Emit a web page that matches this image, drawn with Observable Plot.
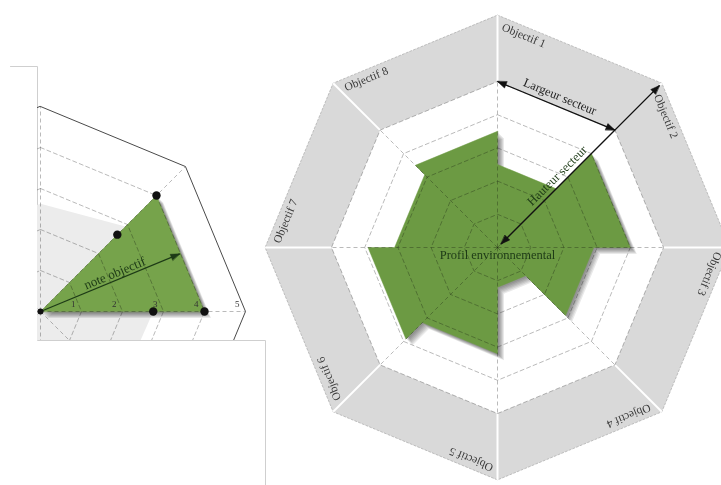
<!DOCTYPE html>
<html><head><meta charset="utf-8">
<script src="https://cdn.jsdelivr.net/npm/d3@7"></script>
<script src="https://cdn.jsdelivr.net/npm/@observablehq/plot@0.6"></script>
<style>
body{margin:0;background:#fff;}
#wrap{position:relative;width:721px;height:485px;overflow:hidden;background:#fff;}
#wrap svg{position:absolute;}
</style></head><body><div id="wrap"></div>
<script>
// ---------- DATA ----------
const objectifs = ["Objectif 1","Objectif 2","Objectif 3","Objectif 4","Objectif 5","Objectif 6","Objectif 7","Objectif 8"];
const notes = [2.5, 4.0, 2.9, 1.2, 3.2, 3.9, 3.1, 3.5];   // profil environnemental (0-5)
const niveaux = [1, 2, 3, 4, 5];
const noteMax = 5;     // limite intérieure de la bande grise
const bandeMax = 7;    // limite extérieure de la bande grise
const annotLargeur = "Largeur secteur";
const annotHauteur = "Hauteur secteur";
const annotProfil = "Profil environnemental";

// détail (encart)
const insetTicks = ["1", "2", "3", "4", "5"];
const insetSecteur = [45, 90];          // angles du secteur détaillé
const insetNote = 4;                    // note du secteur détaillé
const insetReference = [2.63, 2.93, 2.75, 2.7, 2.7, 2.7, 2.7, 2.7]; // profil gris clair
const insetPoints = [
  {angle: 45, note: 4}, {angle: 90, note: 4},
  {angle: 45, note: 2.65}, {angle: 90, note: 2.75}
];
const annotNote = "note objectif";

// ---------- LAYOUT ----------
const W = 721, H = 485;
const U = 33.2, CX = 497, CY = 247;               // main radar: px per unit, centre
const box = {left: 37, top: 66, right: 265, bottom: 340, tail: 10};
const U2 = 41, ICX = 40, ICY = 311;               // inset: px per unit, centre
const shadowSteps = [1.5, 2.5, 3.5, 4.5, 5.5, 6.5]; // px offsets of the soft shadow layers

const rad = d => d * Math.PI / 180;
const pol = (r, a) => ({x: r * Math.sin(rad(a)), y: r * Math.cos(rad(a))});
const angles = d3.range(8).map(k => 45 * k);
const octo = r => angles.map(a => pol(r, a));
const rings = ls => ls.flatMap(l => angles.map(a => ({...pol(l, a), l})));
const shadow = (pts, unit) => shadowSteps.flatMap(s => pts.map(p => ({x: p.x + s / unit, y: p.y - s / unit, s})));
function head(tip, from, L, Wd, id) {
  const dx = tip.x - from.x, dy = tip.y - from.y, n = Math.hypot(dx, dy);
  const ux = dx / n, uy = dy / n, bx = tip.x - ux * L, by = tip.y - uy * L;
  return [{x: tip.x, y: tip.y, id}, {x: bx - uy * Wd, y: by + ux * Wd, id}, {x: bx + uy * Wd, y: by - ux * Wd, id}];
}
const serif = "Liberation Serif, DejaVu Serif, serif";

// ---------- MAIN RADAR ----------
const profil = notes.flatMap((v, k) => [pol(v, 45 * k), pol(v, 45 * (k + 1))]);
const labels = objectifs.map((t, k) => {
  const a0 = 45 * k, V0 = pol(bandeMax, a0), V1 = pol(bandeMax, a0 + 45);
  const len = Math.hypot(V1.x - V0.x, V1.y - V0.y);
  const d = {x: (V1.x - V0.x) / len, y: (V1.y - V0.y) / len};
  const n = pol(1, a0 + 22.5);
  return {t, x: V0.x + d.x * 0.27 - n.x * 0.13, y: V0.y + d.y * 0.27 - n.y * 0.13, r: 22.5 + a0};
});
const lA = pol(noteMax, 0), lB = pol(noteMax, 45);
const lMid = {x: (lA.x + lB.x) / 2, y: (lA.y + lB.y) / 2}, lN = pol(0.3, 22.5);
const hA = pol(0.15, 45), hB = pol(6.9, 45);
const hText = {x: pol(2.8, 45).x + pol(0.26, -45).x, y: pol(2.8, 45).y + pol(0.26, -45).y};
const heads = [
  ...head(lA, lB, 0.27, 0.1, "a"), ...head(lB, lA, 0.27, 0.1, "b"),
  ...head(hA, hB, 0.27, 0.1, "c"), ...head(hB, hA, 0.27, 0.1, "d")
];
const px = v => (v - CX) / U, py = v => (CY - v) / U;
const cadre = [
  {x: px(box.tail), y: py(box.top)}, {x: px(box.left), y: py(box.top)},
  {x: px(box.left), y: py(box.bottom)}, {x: px(box.right), y: py(box.bottom)},
  {x: px(box.right), y: py(H)}
];

const main = Plot.plot({
  width: W, height: H, margin: 0,
  x: {domain: [-CX / U, (W - CX) / U], axis: null},
  y: {domain: [-(H - CY) / U, CY / U], axis: null},
  style: {background: "white", overflow: "hidden"},
  marks: [
    Plot.line(octo(bandeMax), {x: "x", y: "y", curve: "linear-closed", fill: "#d9d9d9", stroke: "#a9a9a9", strokeWidth: 0.7, strokeDasharray: "2,2"}),
    Plot.line(octo(noteMax), {x: "x", y: "y", curve: "linear-closed", fill: "white", stroke: "none"}),
    Plot.link(angles, {x1: a => pol(noteMax, a).x, y1: a => pol(noteMax, a).y, x2: a => pol(bandeMax, a).x, y2: a => pol(bandeMax, a).y, stroke: "white", strokeWidth: 2}),
    Plot.line(shadow(profil, U), {x: "x", y: "y", z: "s", curve: "linear-closed", fill: "#000", fillOpacity: 0.085, stroke: "none"}),
    Plot.line(profil, {x: "x", y: "y", curve: "linear-closed", fill: "#6c9a43", stroke: "#6c9a43", strokeWidth: 0.5}),
    Plot.line(rings(niveaux), {x: "x", y: "y", z: "l", curve: "linear-closed", stroke: "#a8a8a8", strokeWidth: 0.8, strokeDasharray: "4,3", mixBlendMode: "multiply"}),
    Plot.link(angles, {x1: 0, y1: 0, x2: a => pol(noteMax, a).x, y2: a => pol(noteMax, a).y, stroke: "#a8a8a8", strokeWidth: 0.8, strokeDasharray: "4,3", mixBlendMode: "multiply"}),
    Plot.text(labels, {x: "x", y: "y", text: "t", rotate: "r", textAnchor: "start", lineAnchor: "top", fontSize: 11.5, fontFamily: serif, fill: "#3a3a3a"}),
    Plot.link([0], {x1: lA.x, y1: lA.y, x2: lB.x, y2: lB.y, stroke: "#111", strokeWidth: 1.3}),
    Plot.link([0], {x1: hA.x, y1: hA.y, x2: hB.x, y2: hB.y, stroke: "#111", strokeWidth: 1.3}),
    Plot.line(heads, {x: "x", y: "y", z: "id", curve: "linear-closed", fill: "#111", stroke: "#111", strokeWidth: 0.6}),
    Plot.text([annotLargeur], {x: lMid.x + lN.x, y: lMid.y + lN.y, text: d => d, rotate: 22.5, fontSize: 12.5, fontFamily: serif, fill: "#222"}),
    Plot.text([annotHauteur], {x: hText.x, y: hText.y, text: d => d, rotate: -45, fontSize: 12.5, fontFamily: serif, fill: "#1d3a16"}),
    Plot.text([annotProfil], {x: 0, y: -0.24, text: d => d, fontSize: 12.5, fontFamily: serif, fill: "#1d3a16"}),
    Plot.line(cadre, {x: "x", y: "y", stroke: "#cfcfcf", strokeWidth: 1})
  ]
});

// ---------- INSET (détail d'un secteur) ----------
const IW = box.right - box.left, IH = box.bottom - box.top;
const icx = ICX - box.left, icy = ICY - box.top;
const tri = [{x: 0, y: 0}, pol(insetNote, insetSecteur[0]), pol(insetNote, insetSecteur[1])];
const ref = insetReference.map((v, k) => pol(v, 45 * k));
const midA = (insetSecteur[0] + insetSecteur[1]) / 2;
const nA = pol(0.05, midA), nB = pol(insetNote * Math.cos(rad(22.5)) - 0.02, midA);
const nText = {x: pol(2.03, midA).x + pol(0.17, midA - 90).x, y: pol(2.03, midA).y + pol(0.17, midA - 90).y};
const ticks = insetTicks.map((t, k) => ({t, ...pol(k + 1 - 0.2, insetSecteur[1])}));

const inset = Plot.plot({
  width: IW, height: IH, margin: 0,
  x: {domain: [-icx / U2, (IW - icx) / U2], axis: null},
  y: {domain: [-(IH - icy) / U2, icy / U2], axis: null},
  style: {background: "transparent", overflow: "hidden"},
  marks: [
    Plot.line(ref, {x: "x", y: "y", curve: "linear-closed", fill: "#ececec", stroke: "none"}),
    Plot.line(shadow(tri, U2), {x: "x", y: "y", z: "s", curve: "linear-closed", fill: "#000", fillOpacity: 0.085, stroke: "none"}),
    Plot.line(tri, {x: "x", y: "y", curve: "linear-closed", fill: "#76a34b", stroke: "#76a34b", strokeWidth: 0.5}),
    Plot.line(rings(niveaux.slice(0, 4)), {x: "x", y: "y", z: "l", curve: "linear-closed", stroke: "#a8a8a8", strokeWidth: 0.8, strokeDasharray: "4,3", mixBlendMode: "multiply"}),
    Plot.link(angles, {x1: 0, y1: 0, x2: a => pol(5, a).x, y2: a => pol(5, a).y, stroke: "#a8a8a8", strokeWidth: 0.8, strokeDasharray: "4,3", mixBlendMode: "multiply"}),
    Plot.line(octo(5), {x: "x", y: "y", curve: "linear-closed", stroke: "#4a4a4a", strokeWidth: 1}),
    Plot.text(ticks, {x: "x", y: "y", text: "t", dy: -7, fontSize: 9, fontFamily: serif, fill: "#333"}),
    Plot.link([0], {x1: nA.x, y1: nA.y, x2: nB.x, y2: nB.y, stroke: "#1d3a16", strokeWidth: 1.2}),
    Plot.line(head(nB, nA, 0.22, 0.08, "n"), {x: "x", y: "y", curve: "linear-closed", fill: "#1d3a16", stroke: "#1d3a16", strokeWidth: 0.5}),
    Plot.text([annotNote], {x: nText.x, y: nText.y, text: d => d, rotate: -(90 - midA), fontSize: 13, fontFamily: serif, fill: "#1d3a16"}),
    Plot.dot(insetPoints, {x: d => pol(d.note, d.angle).x, y: d => pol(d.note, d.angle).y, r: 4.2, fill: "#111", stroke: "none"}),
    Plot.dot([0], {x: 0, y: 0, r: 3, fill: "#111", stroke: "none"})
  ]
});

const wrap = document.getElementById("wrap");
main.style.left = "0px"; main.style.top = "0px";
inset.style.left = box.left + "px"; inset.style.top = box.top + "px";
wrap.appendChild(main);
wrap.appendChild(inset);
</script></body></html>
